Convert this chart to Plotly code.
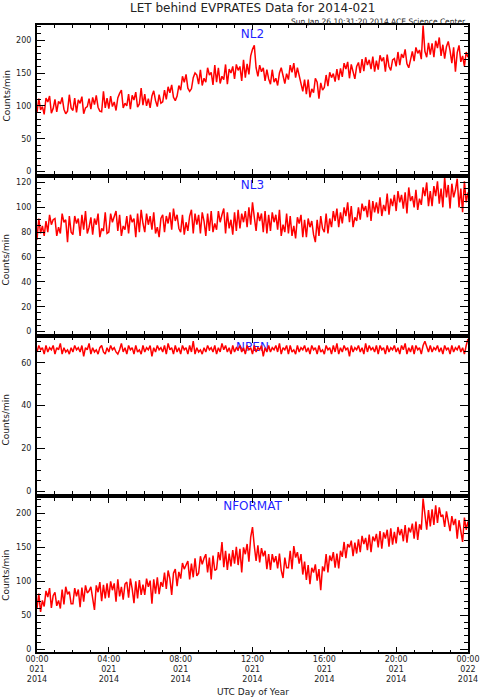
import pandas as pd
import plotly.graph_objects as go

# grille de temps : un point toutes les 6 minutes, jour 021 de 2014
temps = pd.date_range("2014-01-21 00:00", periods=241, freq="6min")

# taux de comptage (coups/min), 10 valeurs par heure
nl2 = [
    90, 111, 94, 99, 87, 112, 106, 115, 89, 96,
    110, 91, 107, 103, 113, 95, 88, 92, 117, 97,
    93, 112, 90, 109, 104, 114, 88, 97, 99, 111,
    95, 113, 102, 116, 98, 92, 91, 122, 97, 112,
    96, 115, 99, 106, 93, 112, 119, 124, 97, 104,
    100, 118, 95, 116, 109, 121, 98, 103, 127, 101,
    118, 100, 111, 97, 115, 123, 108, 99, 117, 104,
    106, 124, 110, 129, 120, 132, 113, 108, 115, 131,
    124, 145, 136, 148, 127, 122, 126, 143, 150, 147,
    133, 155, 131, 142, 136, 158, 147, 151, 132, 162,
    136, 158, 134, 145, 140, 163, 133, 156, 150, 160,
    141, 163, 154, 160, 138, 170, 143, 164, 148, 176,
    186, 192, 158, 145, 162, 152, 158, 138, 155, 141,
    133, 155, 136, 142, 131, 150, 158, 147, 134, 149,
    140, 162, 151, 165, 143, 158, 146, 135, 122, 140,
    118, 140, 113, 126, 120, 142, 136, 111, 135, 124,
    128, 147, 130, 151, 143, 149, 137, 156, 139, 157,
    144, 165, 156, 167, 142, 163, 149, 141, 160, 166,
    150, 171, 153, 174, 162, 170, 156, 175, 152, 169,
    155, 177, 168, 174, 152, 178, 160, 154, 170, 172,
    160, 182, 162, 179, 173, 186, 164, 158, 170, 183,
    168, 189, 180, 185, 171, 222, 183, 174, 196, 178,
    195, 174, 199, 188, 204, 176, 193, 172, 190, 198,
    184, 165, 189, 152, 181, 192, 167, 176, 160, 182,
    174,
]

nl3 = [
    74, 91, 79, 85, 77, 89, 80, 94, 86, 90,
    91, 77, 84, 79, 95, 88, 90, 72, 93, 80,
    78, 93, 87, 91, 77, 94, 82, 97, 79, 84,
    92, 78, 91, 86, 95, 76, 83, 81, 96, 79,
    80, 95, 88, 92, 97, 81, 94, 77, 85, 82,
    93, 79, 94, 88, 91, 76, 95, 80, 98, 87,
    80, 95, 86, 93, 82, 96, 79, 84, 76, 91,
    94, 80, 93, 87, 96, 82, 99, 89, 94, 83,
    80, 94, 78, 88, 81, 93, 98, 79, 95, 86,
    94, 79, 96, 89, 77, 95, 81, 97, 80, 87,
    82, 97, 88, 94, 99, 79, 96, 83, 90, 78,
    96, 81, 98, 83, 95, 88, 97, 84, 100, 86,
    104, 92, 81, 96, 89, 95, 80, 97, 79, 94,
    81, 96, 88, 94, 82, 98, 77, 86, 80, 95,
    79, 93, 77, 85, 75, 92, 87, 94, 76, 90,
    76, 91, 84, 89, 78, 72, 90, 77, 93, 83,
    80, 95, 79, 91, 84, 97, 89, 99, 84, 96,
    87, 100, 93, 104, 88, 101, 84, 92, 89, 100,
    90, 103, 97, 101, 92, 106, 89, 105, 96, 104,
    95, 108, 93, 102, 97, 111, 94, 107, 101, 110,
    97, 113, 104, 110, 99, 112, 95, 116, 105, 109,
    100, 114, 98, 107, 102, 116, 109, 120, 101, 113,
    101, 117, 109, 121, 103, 115, 100, 124, 108, 118,
    99, 119, 108, 114, 123, 100, 115, 96, 121, 104,
    112,
]

npen = [
    65, 68, 66, 67, 64, 68, 65, 67, 66, 68,
    64, 67, 66, 69, 64, 67, 65, 66, 64, 67,
    65, 68, 66, 67, 65, 68, 63, 67, 66, 69,
    64, 67, 65, 66, 64, 67, 68, 65, 64, 67,
    65, 68, 66, 67, 65, 64, 66, 69, 65, 67,
    64, 68, 66, 67, 64, 68, 65, 66, 64, 68,
    65, 67, 66, 68, 63, 67, 65, 68, 66, 67,
    65, 68, 64, 69, 66, 67, 64, 68, 65, 67,
    64, 68, 66, 67, 64, 68, 65, 70, 64, 67,
    65, 66, 64, 67, 65, 68, 66, 67, 65, 68,
    64, 67, 65, 69, 66, 68, 65, 67, 64, 68,
    65, 67, 66, 68, 65, 67, 64, 68, 66, 67,
    64, 68, 65, 67, 66, 68, 63, 67, 65, 68,
    65, 67, 66, 68, 65, 69, 64, 67, 66, 68,
    64, 68, 65, 66, 64, 68, 65, 67, 66, 68,
    65, 67, 64, 68, 66, 67, 64, 68, 65, 66,
    64, 68, 66, 67, 64, 68, 65, 69, 64, 67,
    65, 68, 66, 67, 63, 68, 65, 67, 66, 68,
    65, 67, 64, 69, 65, 68, 66, 67, 65, 68,
    64, 68, 66, 67, 64, 68, 65, 67, 66, 68,
    65, 67, 64, 68, 66, 69, 64, 67, 65, 68,
    64, 68, 66, 67, 64, 68, 70, 67, 65, 68,
    65, 67, 66, 68, 65, 67, 64, 68, 66, 67,
    64, 68, 65, 67, 66, 68, 65, 67, 64, 68,
    71,
]

nformat = [
    60, 82, 55, 72, 63, 86, 77, 90, 61, 79,
    84, 64, 72, 60, 88, 66, 92, 81, 85, 67,
    67, 90, 78, 88, 62, 91, 70, 94, 83, 86,
    92, 72, 58, 94, 84, 99, 71, 95, 75, 97,
    76, 100, 87, 97, 70, 103, 78, 92, 73, 96,
    99, 76, 104, 89, 68, 100, 75, 102, 80, 95,
    80, 104, 92, 101, 67, 103, 82, 106, 81, 99,
    92, 113, 89, 116, 104, 80, 112, 118, 93, 114,
    104, 127, 118, 124, 130, 103, 126, 106, 134, 108,
    112, 137, 125, 134, 140, 113, 135, 103, 138, 116,
    118, 143, 131, 158, 121, 145, 117, 141, 122, 146,
    126, 151, 124, 148, 113, 150, 140, 155, 129, 165,
    180, 152, 130, 153, 128, 149, 137, 145, 118, 140,
    117, 140, 128, 137, 119, 141, 116, 105, 135, 120,
    120, 145, 118, 152, 135, 143, 126, 140, 110, 129,
    102, 124, 96, 120, 113, 125, 101, 118, 87, 122,
    115, 140, 113, 138, 130, 143, 120, 141, 119, 145,
    136, 158, 134, 155, 150, 160, 137, 157, 141, 162,
    143, 167, 155, 164, 146, 169, 143, 166, 159, 170,
    150, 174, 148, 172, 163, 176, 151, 178, 154, 173,
    156, 180, 168, 177, 159, 183, 157, 179, 172, 185,
    163, 188, 161, 184, 176, 222, 193, 176, 205, 181,
    206, 183, 212, 186, 209, 195, 198, 180, 203, 188,
    174, 196, 183, 192, 163, 190, 172, 158, 194, 176,
    188,
]

noms = ["NL2", "NL3", "NPEN", "NFORMAT"]
series = [nl2, nl3, npen, nformat]

# mise en page des 4 panneaux (du haut vers le bas)
domaines = [[0.7624, 1.0], [0.5072, 0.7560], [0.2520, 0.5008], [0.0, 0.2456]]
plages_y = [[-3.5, 223], [-1.9, 123.6], [-1.1, 71.5], [-4, 222.7]]
pas_y = [50, 20, 20, 50]
pas_mineur_y = [10, 5, 5, 10]
y_noms = [208, 117, 67, 210]
y_titres = [0.8868, 0.6251, 0.3700, 0.1222]

police = "DejaVu Sans"
gris = "#222222"

fig = go.Figure()

for i in range(4):
    k = "" if i == 0 else str(i + 1)
    # le nom du panneau est tracé sous la courbe (comme NPEN dans l'original)
    fig.add_trace(go.Scatter(
        x=[temps[120]], y=[y_noms[i]], mode="text", text=[noms[i]],
        textfont=dict(family=police, size=12, color="#1f1fff"),
        xaxis="x" + k, yaxis="y" + k, hoverinfo="skip"))
    fig.add_trace(go.Scatter(
        x=temps, y=series[i], mode="lines",
        line=dict(color="#ff0000", width=1.5),
        xaxis="x" + k, yaxis="y" + k, name=noms[i]))

    fig.layout["xaxis" + k] = dict(
        domain=[0, 1], anchor="y" + k, type="date", automargin=False,
        range=["2014-01-21 00:00", "2014-01-22 00:00"],
        tick0="2014-01-21", dtick=4 * 3600000,
        ticks="inside", ticklen=5, tickwidth=1.2, tickcolor="black",
        minor=dict(dtick=3600000, ticks="inside", ticklen=2.5, tickwidth=1, tickcolor="black"),
        showline=True, linecolor="black", linewidth=2, mirror="allticks",
        showgrid=False, zeroline=False,
        showticklabels=(i == 3), tickformat="%H:%M<br>%j<br>%Y",
        ticklabelstandoff=-2,
        tickfont=dict(family=police, size=8, color=gris),
    )
    fig.layout["yaxis" + k] = dict(
        domain=domaines[i], anchor="x" + k, range=plages_y[i], automargin=False,
        dtick=pas_y[i], tick0=0,
        ticks="inside", ticklen=8, tickwidth=1.2, tickcolor="black",
        minor=dict(dtick=pas_mineur_y[i], ticks="inside", ticklen=4, tickwidth=1, tickcolor="black"),
        showline=True, linecolor="black", linewidth=2, mirror="allticks",
        showgrid=False, zeroline=False, ticklabelstandoff=2,
        tickfont=dict(family=police, size=8, color=gris),
    )
    fig.add_annotation(
        text="Counts/min", xref="paper", yref="paper", x=-0.0708, y=y_titres[i],
        xanchor="center", yanchor="middle", textangle=-90, showarrow=False,
        font=dict(family=police, size=9, color=gris))

fig.add_annotation(
    text="LET behind EVPRATES Data for 2014-021", xref="paper", yref="paper",
    x=0.5, y=1.0268, xanchor="center", yanchor="middle", showarrow=False,
    font=dict(family=police, size=12, color=gris))
fig.add_annotation(
    text="Sun Jan 26 10:31:20 2014 ACE Science Center", xref="paper", yref="paper",
    x=1.0, y=1.0059, xanchor="right", yanchor="middle", showarrow=False,
    font=dict(family=police, size=7.5, color=gris))
fig.add_annotation(
    text="UTC Day of Year", xref="paper", yref="paper",
    x=0.5, y=-0.0638, xanchor="center", yanchor="middle", showarrow=False,
    font=dict(family=police, size=9, color=gris))

fig.update_layout(
    width=481, height=700,
    margin=dict(l=37, r=13, t=25, b=48),
    plot_bgcolor="white", paper_bgcolor="white",
    showlegend=False,
)

# on retire la marge par défaut du body pour que la figure remplisse la fenêtre
# et on masque la barre d'outils qui couvrait le titre
fig.write_html("out.html", config={"displayModeBar": False},
               post_script="document.body.style.margin = '0px';")
